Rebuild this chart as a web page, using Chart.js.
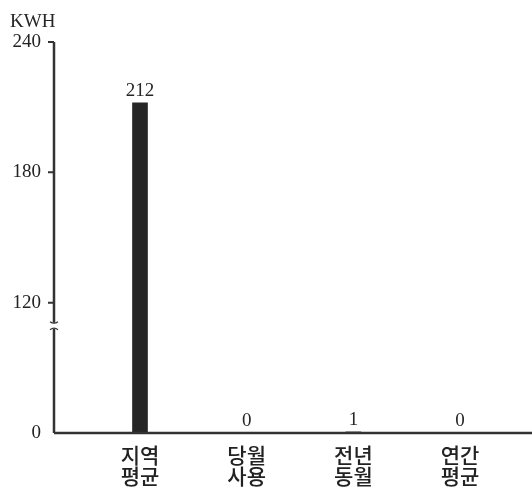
<!DOCTYPE html>
<html>
<head>
<meta charset="utf-8">
<script src="https://cdn.jsdelivr.net/npm/chart.js@4"></script>
<style>
	html, body { margin: 0; padding: 0; background: #fff; }
	#wrap { width: 532px; height: 490px; position: relative; }
</style>
</head>
<body>
<div id="wrap"><canvas id="chart"></canvas></div>
<script>
var categories = [['지역', '평균'], ['당월', '사용'], ['전년', '동월'], ['연간', '평균']];
var usage = [212, 0, 1, 0];
var yTicks = [0, 120, 180, 240];
var unitLabel = 'KWH';

// axis is broken between 0 and 120: that span is squeezed into one step
function toAxis(v) {
	return v < 120 ? v / 2 : v - 60;
}

var ink = '#262626';
var serif = "'Liberation Serif', 'DejaVu Serif', serif";

var axesPlugin = {
	id: 'axes',
	afterDraw: function(chart) {
		var ctx = chart.ctx;
		var y = chart.scales.y;
		var area = chart.chartArea;
		var x0 = area.left;
		var breakTop = y.getPixelForValue(toAxis(120)) + 20;
		var breakBot = breakTop + 6;

		ctx.save();
		ctx.strokeStyle = '#333';
		ctx.lineWidth = 2.5;

		// y axis, with a small break
		ctx.beginPath();
		ctx.moveTo(x0, area.top);
		ctx.lineTo(x0, breakTop);
		ctx.moveTo(x0, breakBot);
		ctx.lineTo(x0, area.bottom);
		ctx.stroke();

		ctx.lineWidth = 1.2;
		ctx.beginPath();
		ctx.moveTo(x0 - 4, breakTop - 1);
		ctx.quadraticCurveTo(x0, breakTop + 2, x0 + 4, breakTop - 1);
		ctx.moveTo(x0 - 4, breakBot + 1);
		ctx.quadraticCurveTo(x0, breakBot - 2, x0 + 4, breakBot + 1);
		ctx.stroke();

		// tick marks (none at 0)
		ctx.lineWidth = 2;
		ctx.beginPath();
		yTicks.forEach(function(t) {
			if (t === 0) return;
			var py = y.getPixelForValue(toAxis(t));
			ctx.moveTo(x0 - 6, py);
			ctx.lineTo(x0, py);
		});
		ctx.stroke();

		// x axis runs to the edge
		ctx.lineWidth = 2.5;
		ctx.beginPath();
		ctx.moveTo(x0, area.bottom);
		ctx.lineTo(chart.width, area.bottom);
		ctx.stroke();

		// unit
		ctx.fillStyle = ink;
		ctx.font = '19px ' + serif;
		ctx.textAlign = 'left';
		ctx.textBaseline = 'alphabetic';
		ctx.fillText(unitLabel, 10, 27);
		ctx.restore();
	}
};

var valuePlugin = {
	id: 'values',
	afterDatasetsDraw: function(chart) {
		var ctx = chart.ctx;
		var meta = chart.getDatasetMeta(0);
		ctx.save();
		ctx.fillStyle = ink;
		ctx.font = '19px ' + serif;
		ctx.textAlign = 'center';
		ctx.textBaseline = 'alphabetic';
		meta.data.forEach(function(bar, i) {
			ctx.fillText(String(usage[i]), bar.x, bar.y - 7);
		});
		ctx.restore();
	}
};

new Chart(document.getElementById('chart'), {
	type: 'bar',
	data: {
		datasets: [{
			data: usage.map(function(v, i) { return {x: i, y: toAxis(v)}; }),
			backgroundColor: ink,
			borderWidth: 0,
			barThickness: 15
		}]
	},
	options: {
		responsive: true,
		maintainAspectRatio: false,
		animation: false,
		layout: {padding: {top: 42, right: 0, left: 0, bottom: 0}},
		plugins: {legend: {display: false}, tooltip: {enabled: false}},
		scales: {
			x: {
				type: 'linear',
				offset: false,
				min: -0.806,
				max: 3.674,
				afterBuildTicks: function(scale) {
					scale.ticks = categories.map(function(c, i) { return {value: i}; });
				},
				afterFit: function(scale) { scale.height = 57; },
				grid: {display: false, drawTicks: false},
				border: {display: false},
				ticks: {
					autoSkip: false,
					maxRotation: 0,
					padding: 12,
					color: '#222',
					font: {family: "'Noto Sans CJK KR', sans-serif", size: 21, weight: '500', lineHeight: 1.0},
					callback: function(v) { return categories[v]; }
				}
			},
			y: {
				min: 0,
				max: toAxis(240),
				afterBuildTicks: function(scale) {
					scale.ticks = yTicks.map(function(t) { return {value: toAxis(t)}; });
				},
				afterFit: function(scale) { scale.width = 54; },
				grid: {display: false, drawTicks: false},
				border: {display: false},
				ticks: {
					padding: 13,
					color: '#222',
					font: {family: serif, size: 19},
					callback: function(v, i) { return String(yTicks[i]); }
				}
			}
		}
	},
	plugins: [axesPlugin, valuePlugin]
});
</script>
</body>
</html>
